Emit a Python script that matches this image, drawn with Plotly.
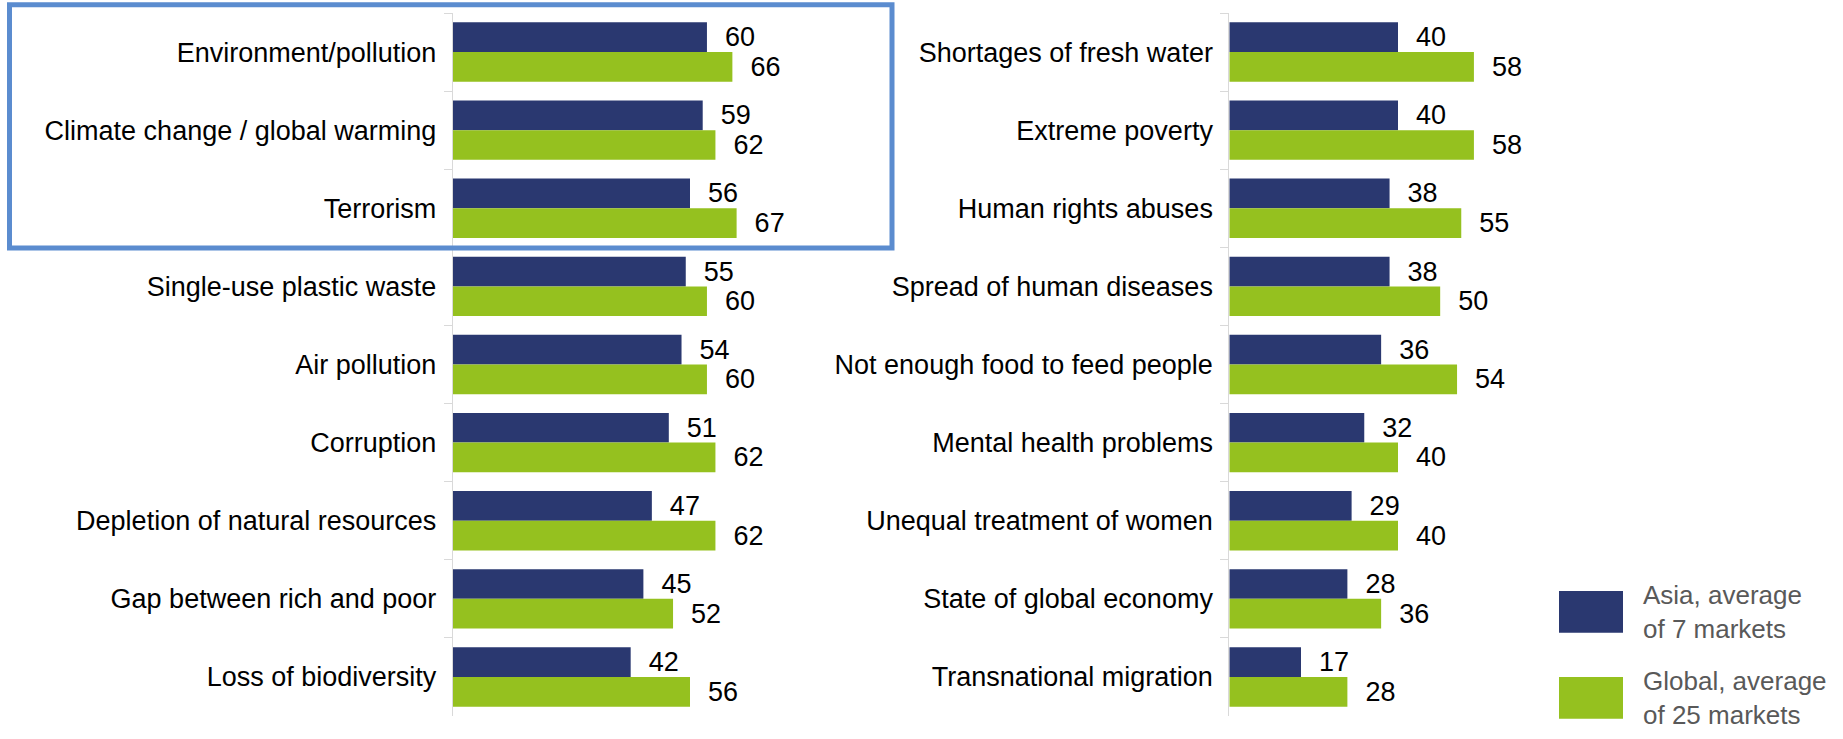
import plotly.graph_objects as go

# ---- data ----
left_categories = [
    "Environment/pollution",
    "Climate change / global warming",
    "Terrorism",
    "Single-use plastic waste",
    "Air pollution",
    "Corruption",
    "Depletion of natural resources",
    "Gap between rich and poor",
    "Loss of biodiversity",
]
left_asia = [60, 59, 56, 55, 54, 51, 47, 45, 42]
left_global = [66, 62, 67, 60, 60, 62, 62, 52, 56]

right_categories = [
    "Shortages of fresh water",
    "Extreme poverty",
    "Human rights abuses",
    "Spread of human diseases",
    "Not enough food to feed people",
    "Mental health problems",
    "Unequal treatment of women",
    "State of global economy",
    "Transnational migration",
]
right_asia = [40, 40, 38, 38, 36, 32, 29, 28, 17]
right_global = [58, 58, 55, 50, 54, 40, 40, 36, 28]

series_names = ["Asia, average<br>of 7 markets", "Global, average<br>of 25 markets"]

# ---- style ----
BLUE = "#2A3870"
GREEN = "#95C11F"
FONT = "Liberation Sans, Arial, sans-serif"
W, H = 1843, 739
MT, MB = 13, 23
PH = H - MT - MB


def py(p):
    return (H - MB - p) / PH


fig = go.Figure()


def add_panel(cats, asia, glob, xa, ya):
    for vals, col in ((asia, BLUE), (glob, GREEN)):
        fig.add_trace(go.Bar(
            y=cats, x=vals, orientation="h",
            marker=dict(color=col, line=dict(width=0)),
            text=vals, texttemplate="\u00a0\u00a0%{x}",
            textposition="outside", constraintext="none", cliponaxis=False,
            textfont=dict(family=FONT, size=27, color="#000000"),
            xaxis=xa, yaxis=ya, showlegend=False, hoverinfo="skip",
        ))


add_panel(left_categories, left_asia, left_global, "x", "y")
add_panel(right_categories, right_asia, right_global, "x2", "y2")

xcommon = dict(range=[0, 80], visible=False, showgrid=False, zeroline=False, fixedrange=True)
ycommon = dict(
    type="category", autorange="reversed", showline=True, linecolor="#D9D9D9", linewidth=1,
    ticks="outside", tickson="boundaries", ticklen=8, tickcolor="#D9D9D9", tickwidth=1,
    showgrid=False, ticklabelstandoff=10,
    tickfont=dict(family=FONT, size=27, color="#000000"), domain=[0, 1],
)

fig.update_layout(
    width=W, height=H,
    margin=dict(l=0, r=0, t=MT, b=MB),
    paper_bgcolor="white", plot_bgcolor="white",
    barmode="group", bargap=0.24, bargroupgap=0,
    xaxis=dict(domain=[452.7 / W, 791.7 / W], anchor="y", **xcommon),
    yaxis=dict(anchor="x", **ycommon),
    xaxis2=dict(domain=[1229.3 / W, 1566.7 / W], anchor="y2", **xcommon),
    yaxis2=dict(anchor="x2", **ycommon),
    showlegend=False,
)

# highlight box around the top three items
fig.add_shape(type="rect", xref="paper", yref="paper",
              x0=9.5 / W, x1=892 / W, y0=py(248), y1=py(4.8),
              line=dict(color="#5B8CCF", width=5), fillcolor="rgba(0,0,0,0)", layer="above")

# legend (drawn manually to match large swatches)
for (top, bot), col, name, cy in (
    ((591, 632.7), BLUE, series_names[0], 612),
    ((677, 718.7), GREEN, series_names[1], 698),
):
    fig.add_shape(type="rect", xref="paper", yref="paper",
                  x0=1559 / W, x1=1623 / W, y0=py(bot), y1=py(top),
                  line=dict(width=0), fillcolor=col)
    fig.add_annotation(xref="paper", yref="paper", x=1641 / W, y=py(cy),
                       xanchor="left", yanchor="middle", align="left", showarrow=False,
                       text=name, font=dict(family=FONT, size=26, color="#595959"))

fig.write_html("out.html")
